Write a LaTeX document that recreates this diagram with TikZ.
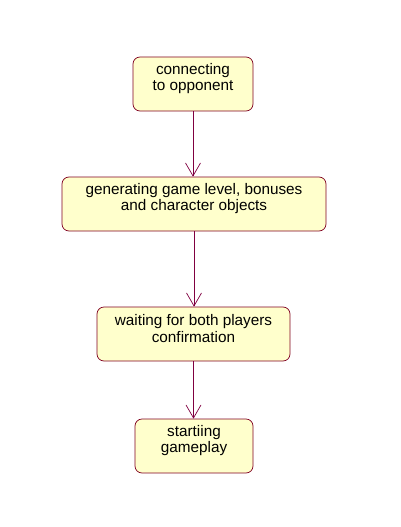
\documentclass[tikz,border=0pt]{standalone}
\usepackage{fontspec}
\setmainfont{Liberation Sans}
\usetikzlibrary{arrows.meta}
\definecolor{boxfill}{RGB}{255,255,204}
\definecolor{boxdraw}{RGB}{128,0,32}
\definecolor{arrowcol}{RGB}{128,0,64}
\begin{document}
\begin{tikzpicture}[x=1pt,y=-1pt,
  state/.style={draw=boxdraw, fill=boxfill, rounded corners=7pt, line width=0.7pt,
    inner sep=0pt, minimum height=54pt},
  label text/.style={align=center, font=\fontsize{15.3}{16.5}\selectfont, inner sep=0pt, yshift=5.5pt},
  flow/.style={draw=arrowcol, line width=0.7pt, -{Straight Barb[length=13pt,width=15pt,line width=0.7pt]}}]
\useasboundingbox (0,0) rectangle (401,527);
\node[state, minimum width=120pt] (a) at (193,84) {};
\node[state, minimum width=264pt] (b) at (194,204) {};
\node[state, minimum width=193pt] (c) at (193.5,334) {};
\node[state, minimum width=118pt] (d) at (194,446) {};
\node[label text] (ta) at (a.center) {connecting\\to opponent};
\node[label text] (tb) at (b.center) {generating game level, bonuses\\and character objects};
\node[label text] (tc) at (c.center) {waiting for both players\\confirmation};
\node[label text] (td) at (d.center) {startiing\\gameplay};
\draw[flow] (a.south) -- (a.south |- b.north);
\draw[flow] (b.south) -- (b.south |- c.north);
\draw[flow] (c.south) -- (c.south |- d.north);
\end{tikzpicture}
\end{document}
